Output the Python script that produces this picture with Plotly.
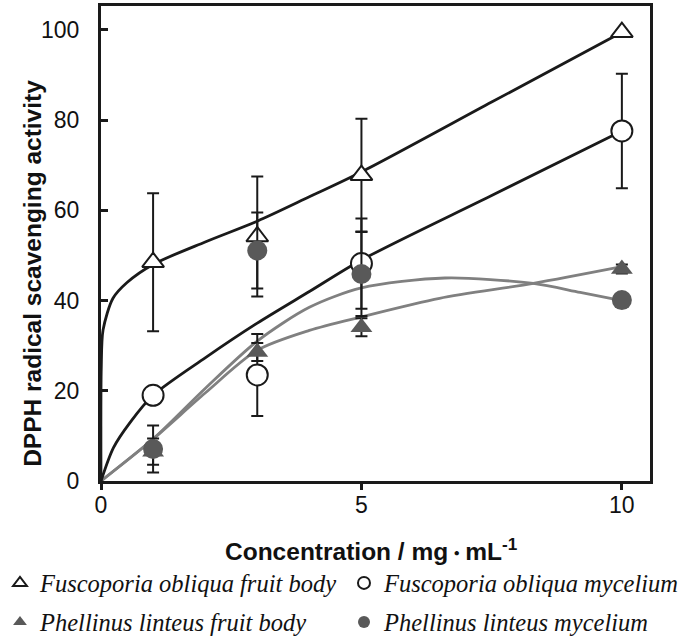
import plotly.graph_objects as go

# ---- data ----
conc = [1, 3, 5, 10]

fo_fruit = [48.5, 54.2, 67.8, 99.5]        # Fuscoporia obliqua fruit body
fo_fruit_err = [15.3, 13.3, 12.5, 0.5]
fo_myc = [19.0, 23.5, 48.2, 77.6]          # Fuscoporia obliqua mycelium
fo_myc_err = [1.0, 9.1, 10.0, 12.7]
pl_fruit = [6.5, 28.6, 34.1, 47.0]         # Phellinus linteus fruit body
pl_fruit_err = [2.9, 2.0, 2.0, 1.0]
pl_myc = [7.1, 51.1, 45.9, 40.1]           # Phellinus linteus mycelium
pl_myc_err = [5.2, 8.4, 9.3, 1.0]

# fitted trend curves
fo_fruit_fit_x = [0, 0.005, 0.04, 0.23, 0.5, 1, 2, 3, 4, 5, 7.5, 10]
fo_fruit_fit_y = [0, 25, 33.5, 40.5, 44, 48, 53, 57.6, 63, 68.5, 84, 99.5]
fo_myc_fit_x = [0, 0.24, 0.56, 1, 2, 3, 4, 5, 7.5, 10]
fo_myc_fit_y = [0, 7.4, 13, 19, 27.3, 35, 42, 49, 63.3, 77.6]
pl_fruit_fit_x = [0, 1, 2, 3, 4, 5, 6.5, 8.3, 10]
pl_fruit_fit_y = [0, 9.3, 19.5, 29, 33.4, 36.4, 40.5, 43.8, 47.5]
pl_myc_fit_x = [0, 1, 2, 3, 4, 5, 6.6, 8.3, 9.2, 10]
pl_myc_fit_y = [0, 9.3, 20.5, 31, 38.5, 42.8, 45, 43.8, 41.8, 40]

x_ticks = [0, 5, 10]
y_ticks = [0, 20, 40, 60, 80, 100]

names = [
    "<i>Fuscoporia obliqua fruit body</i>",
    "<i>Fuscoporia obliqua mycelium</i>",
    "<i>Phellinus linteus fruit body</i>",
    "<i>Phellinus linteus mycelium</i>",
]

BLACK = "#1a1a1a"
GRAYLINE = "#808080"
GRAYMARK = "#595959"

fig = go.Figure()

# curves
for fx, fy, col in [
    (pl_fruit_fit_x, pl_fruit_fit_y, GRAYLINE),
    (pl_myc_fit_x, pl_myc_fit_y, GRAYLINE),
    (fo_myc_fit_x, fo_myc_fit_y, BLACK),
    (fo_fruit_fit_x, fo_fruit_fit_y, BLACK),
]:
    fig.add_trace(go.Scatter(x=fx, y=fy, mode="lines",
                             line=dict(color=col, width=2.8, shape="spline", smoothing=0.8),
                             showlegend=False, hoverinfo="skip"))

def err(vals):
    return dict(type="data", array=vals, visible=True, color=BLACK, thickness=2, width=6)

fig.add_trace(go.Scatter(x=conc, y=fo_fruit, mode="markers", name=names[0], legend="legend",
                         error_y=err(fo_fruit_err),
                         marker=dict(symbol="triangle-up", size=19, color="white",
                                     line=dict(color=BLACK, width=2))))
fig.add_trace(go.Scatter(x=conc, y=fo_myc, mode="markers", name=names[1], legend="legend2",
                         error_y=err(fo_myc_err),
                         marker=dict(symbol="circle", size=21, color="white",
                                     line=dict(color=BLACK, width=2))))
fig.add_trace(go.Scatter(x=conc, y=pl_fruit, mode="markers", name=names[2], legend="legend3",
                         error_y=err(pl_fruit_err),
                         marker=dict(symbol="triangle-up", size=19, color=GRAYMARK,
                                     line=dict(color=GRAYMARK, width=0))))
fig.add_trace(go.Scatter(x=conc, y=pl_myc, mode="markers", name=names[3], legend="legend4",
                         error_y=err(pl_myc_err),
                         marker=dict(symbol="circle", size=20, color=GRAYMARK,
                                     line=dict(color=GRAYMARK, width=0))))

legend_common = dict(orientation="v", xref="paper", yref="paper", xanchor="left",
                     yanchor="middle", itemsizing="constant",
                     bgcolor="rgba(0,0,0,0)", borderwidth=0,
                     font=dict(family="Liberation Serif", size=24.5, color="#111"))

fig.update_layout(
    width=697, height=641,
    margin=dict(l=101, r=47, t=6, b=160, autoexpand=False),
    paper_bgcolor="white", plot_bgcolor="white",
    font=dict(family="Liberation Sans, Arial", color="#111"),
    legend=dict(x=-0.184, y=-0.2147, **legend_common),
    legend2=dict(x=0.4426, y=-0.2147, **legend_common),
    legend3=dict(x=-0.184, y=-0.2968, **legend_common),
    legend4=dict(x=0.4426, y=-0.2968, **legend_common),
    xaxis=dict(range=[0, 10.54], tickvals=x_ticks, ticks="outside", ticklen=6, tickwidth=2.5,
               tickcolor=BLACK, showline=True, linecolor=BLACK, linewidth=3, mirror=True,
               showgrid=False, zeroline=False, ticklabelstandoff=-5,
               tickfont=dict(family="Liberation Sans, Arial", size=23, color="#111")),
    yaxis=dict(range=[0, 105.3], tickvals=y_ticks, ticks="inside", ticklen=7, tickwidth=2.5,
               tickcolor=BLACK, showline=True, linecolor=BLACK, linewidth=3, mirror=True,
               showgrid=False, zeroline=False, ticklabelstandoff=14,
               tickfont=dict(family="Liberation Sans, Arial", size=23, color="#111")),
    annotations=[
        dict(text="DPPH radical scavenging activity", textangle=-90, xref="paper", yref="paper",
             x=-0.124, y=0.438, xanchor="center", yanchor="middle", showarrow=False,
             font=dict(family="Liberation Sans, Arial", size=24.5, color="#111", weight="bold")),
        dict(text="Concentration / mg<span style='font-family:Noto Sans CJK JP;font-size:17px'>・</span>mL<sup>-1</sup>",
             xref="paper", yref="paper", x=0.492, y=-0.145, xanchor="center", yanchor="middle",
             showarrow=False,
             font=dict(family="Liberation Sans, Arial", size=24.5, color="#111", weight="bold")),
    ],
)

fig.write_html("out.html", config={"displayModeBar": False},
               post_script="document.body.style.margin='0px';document.body.style.overflow='hidden';")
